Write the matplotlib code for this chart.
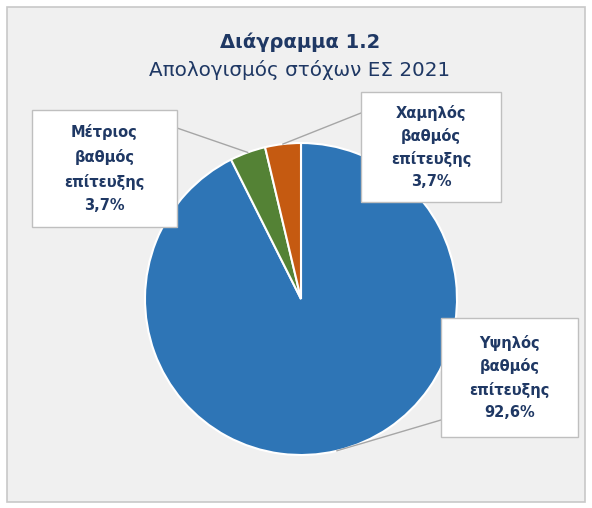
import numpy as np
import matplotlib.pyplot as plt
from matplotlib.patches import Rectangle

# data
categories = ["Υψηλός\nβαθμός\nεπίτευξης", "Μέτριος\nβαθμός\nεπίτευξης", "Χαμηλός\nβαθμός\nεπίτευξης"]
values = [92.6, 3.7, 3.7]
pct_labels = ["92,6%", "3,7%", "3,7%"]
colors = ["#2e75b6", "#548235", "#c55a11"]

title = "Διάγραμμα 1.2"
subtitle = "Απολογισμός στόχων ΕΣ 2021"

W, H = 592, 508
navy = "#1f3864"

fig = plt.figure(figsize=(W / 100, H / 100), dpi=100)
fig.patch.set_facecolor("white")
ax = fig.add_axes([0, 0, 1, 1])

# chart area
ax.add_patch(Rectangle((7, 6), 578, 495, facecolor="#f0f0f0",
                       edgecolor="#c8c8c8", lw=1.2, zorder=0))

cx, cy, r = 301, H - 299, 156
wedges, _ = ax.pie(values, colors=colors, startangle=90, counterclock=False,
                   center=(cx, cy), radius=r, frame=True,
                   wedgeprops=dict(edgecolor="white", linewidth=1.5))

# label boxes: left, top, right, bottom (px from top) and leader anchor
boxes = [(441, 318, 578, 437), (32, 110, 177, 227), (361, 92, 501, 202)]
anchors = [(441, 420), (177, 128), (361, 113)]
spacing = [1.6, 1.7, 1.55]

for w, cat, pct, (x0, y0, x1, y1), (axp, ayp), ls in zip(wedges, categories, pct_labels,
                                                         boxes, anchors, spacing):
    ang = np.deg2rad((w.theta1 + w.theta2) / 2)
    px, py = cx + r * np.cos(ang), cy + r * np.sin(ang)
    ax.plot([axp, px], [H - ayp, py], color="#a6a6a6", lw=1, zorder=3)
    ax.add_patch(Rectangle((x0, H - y1), x1 - x0, y1 - y0, facecolor="white",
                           edgecolor="#bfbfbf", lw=1, zorder=4))
    ax.text((x0 + x1) / 2, H - (y0 + y1) / 2, cat + "\n" + pct, ha="center", va="center",
            fontsize=10.5, fontweight="bold", color=navy, linespacing=ls, zorder=5)

ax.text(300, H - 42, title, ha="center", va="center", fontsize=14,
        fontweight="heavy", color=navy)
ax.text(300, H - 70, subtitle, ha="center", va="center", fontsize=14.3, color=navy)

ax.set_xlim(0, W)
ax.set_ylim(0, H)
ax.axis("off")

fig.savefig("out.png", dpi=100)
